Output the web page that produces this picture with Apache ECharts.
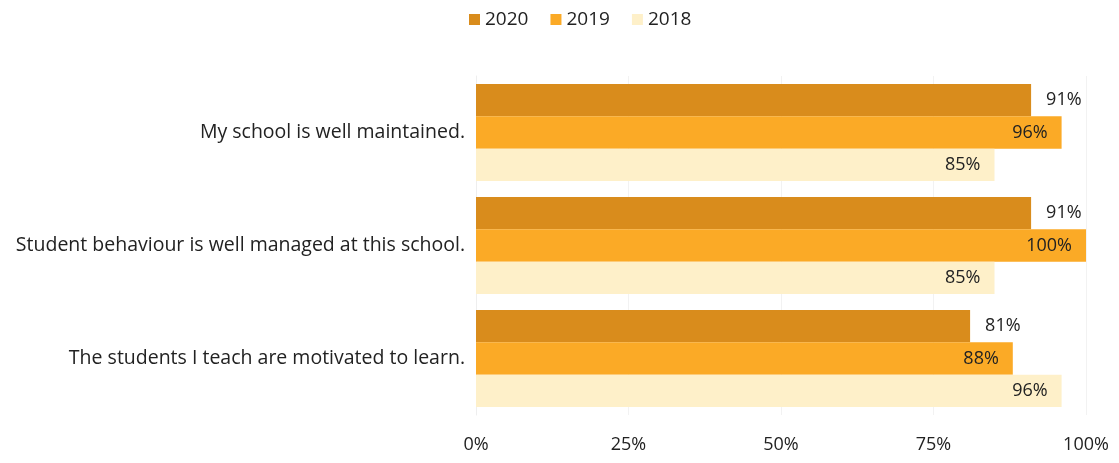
<!DOCTYPE html>
<html>
<head>
<meta charset="utf-8">
<script src="https://cdn.jsdelivr.net/npm/echarts@6/dist/echarts.min.js"></script>
<style>
  html, body { margin: 0; padding: 0; background: #fff; }
  #chart { width: 1119px; height: 463px; }
</style>
</head>
<body>
<div id="chart"></div>
<script>
// Survey statements (top to bottom)
const categories = [
  'My school is well maintained.',
  'Student behaviour is well managed at this school.',
  'The students I teach are motivated to learn.'
];
// Percent agreeing, by year
const values2020 = [91, 91, 81];
const values2019 = [96, 100, 88];
const values2018 = [85, 85, 96];
const years = ['2020', '2019', '2018'];
const tickLabels = ['0%', '25%', '50%', '75%', '100%'];

const colors = { '2020': '#D98C1C', '2019': '#FBAA26', '2018': '#FEF0C9' };
const FONT = '"Open Sans", "Noto Sans", sans-serif';

function barSeries(name, data, labelPos) {
  return {
    name: name,
    type: 'bar',
    data: data,
    barGap: '0%',
    barCategoryGap: '14%',
    itemStyle: { color: colors[name] },
    label: {
      show: true,
      position: labelPos,
      distance: labelPos === 'right' ? 15 : 14,
      formatter: '{c}%',
      color: '#222',
      fontFamily: FONT,
      fontSize: 18
    }
  };
}

const chart = echarts.init(document.getElementById('chart'));
chart.setOption({
  animation: false,
  textStyle: { fontFamily: FONT },
  legend: {
    top: 5,
    left: 464,
    data: years,
    itemWidth: 11,
    itemHeight: 11,
    itemGap: 22,
    icon: 'rect',
    textStyle: { fontFamily: FONT, fontSize: 19, color: '#222' }
  },
  grid: { left: 476, right: 33, top: 76, bottom: 48 },
  xAxis: {
    type: 'value',
    min: 0,
    max: 100,
    interval: 25,
    axisLine: { show: false },
    axisTick: { show: false },
    splitLine: { lineStyle: { color: '#f2f2f2', width: 1 } },
    axisLabel: {
      margin: 21,
      fontFamily: FONT,
      fontSize: 18,
      color: '#222',
      formatter: v => tickLabels[v / 25]
    }
  },
  yAxis: {
    type: 'category',
    data: categories,
    inverse: true,
    axisLine: { show: true, lineStyle: { color: '#eeeeee' } },
    axisTick: { show: false },
    axisLabel: {
      margin: 11,
      fontFamily: FONT,
      fontSize: 19.5,
      color: '#222'
    }
  },
  series: [
    barSeries('2020', values2020, 'right'),
    barSeries('2019', values2019, 'insideRight'),
    barSeries('2018', values2018, 'insideRight')
  ]
});
</script>
</body>
</html>
